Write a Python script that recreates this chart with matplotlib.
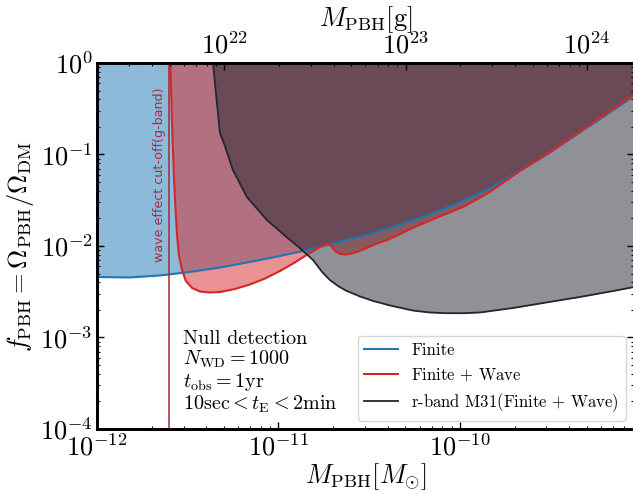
import numpy as np
import matplotlib
matplotlib.use("Agg")
import matplotlib.pyplot as plt

plt.rcParams['font.family'] = 'serif'
plt.rcParams['font.serif'] = ['cmr10']
plt.rcParams['mathtext.fontset'] = 'cm'
plt.rcParams['axes.formatter.use_mathtext'] = True
plt.rcParams['axes.unicode_minus'] = False

MSUN_G = 1.989e33
M_CUT = 2.5e-12

# finite-source limit
m_finite = [1.0e-12, 1.52e-12, 2.22e-12, 3.25e-12, 4.76e-12, 6.97e-12, 1.02e-11,
            1.49e-11, 2.18e-11, 3.19e-11, 4.67e-11, 6.83e-11, 1.0e-10, 1.46e-10,
            2.14e-10, 3.13e-10, 4.58e-10, 6.71e-10, 9.1e-10]
f_finite = [4.58e-3, 4.53e-3, 4.76e-3, 5.20e-3, 5.82e-3, 6.69e-3, 7.78e-3,
            9.16e-3, 1.11e-2, 1.35e-2, 1.70e-2, 2.21e-2, 2.99e-2, 4.25e-2,
            6.61e-2, 0.105, 0.174, 0.288, 0.436]

# finite + wave-optics limit
m_wave = [2.54e-12, 2.57e-12, 2.61e-12, 2.66e-12, 2.71e-12, 2.76e-12, 2.83e-12,
          2.94e-12, 3.09e-12, 3.34e-12, 3.69e-12, 4.19e-12, 4.76e-12, 5.76e-12,
          6.97e-12, 8.43e-12, 1.02e-11, 1.23e-11, 1.49e-11, 1.69e-11, 1.85e-11,
          1.95e-11, 2.05e-11, 2.18e-11, 2.38e-11, 2.71e-11, 3.07e-11, 3.49e-11,
          3.96e-11, 4.50e-11, 5.30e-11, 6.83e-11, 8.37e-11, 1.07e-10, 1.46e-10,
          2.14e-10, 3.13e-10, 4.58e-10, 6.71e-10, 9.1e-10]
f_wave = [1.0, 0.394, 0.144, 0.0526, 0.0247, 0.0132, 7.97e-3,
          5.47e-3, 4.14e-3, 3.48e-3, 3.18e-3, 3.10e-3, 3.14e-3, 3.39e-3,
          3.80e-3, 4.41e-3, 5.33e-3, 6.60e-3, 8.39e-3, 9.75e-3, 1.065e-2,
          1.01e-2, 8.82e-3, 8.18e-3, 8.07e-3, 8.60e-3, 9.51e-3, 1.065e-2,
          1.16e-2, 1.30e-2, 1.53e-2, 1.90e-2, 2.24e-2, 2.74e-2, 3.89e-2,
          6.60e-2, 0.1065, 0.178, 0.299, 0.453]

# r-band M31 survey, finite + wave
m_m31 = [4.36e-12, 4.47e-12, 4.76e-12, 5.07e-12, 5.61e-12, 6.70e-12, 8.64e-12,
         1.11e-11, 1.31e-11, 1.55e-11, 1.74e-11, 1.92e-11, 2.13e-11, 2.35e-11,
         2.81e-11, 3.32e-11, 4.11e-11, 5.51e-11, 6.83e-11, 8.37e-11, 1.04e-10,
         1.29e-10, 1.96e-10, 2.98e-10, 4.58e-10, 6.97e-10, 9.1e-10]
f_m31 = [1.0, 0.604, 0.172, 0.124, 0.0677, 0.0343, 0.0192,
         1.25e-2, 9.51e-3, 7.03e-3, 5.20e-3, 4.25e-3, 3.65e-3, 3.26e-3,
         2.81e-3, 2.51e-3, 2.24e-3, 1.97e-3, 1.876e-3, 1.843e-3, 1.843e-3,
         1.876e-3, 2.10e-3, 2.41e-3, 2.77e-3, 3.22e-3, 3.56e-3]

c_finite = '#1f77b4'
c_wave = '#d62728'
c_m31 = '#23252f'
c_cut = '#9e2a3a'

fig = plt.figure(figsize=(6.33, 4.94), dpi=100)
ax = fig.add_axes([0.1532, 0.1316, 0.8483, 0.7409])

ax.fill_between(m_finite, f_finite, 1, color=c_finite, alpha=0.5, lw=0, zorder=1)
ax.fill_between(m_wave, f_wave, 1, color=c_wave, alpha=0.5, lw=0, zorder=1)
ax.fill_between(m_m31, f_m31, 1, color=c_m31, alpha=0.5, lw=0, zorder=1)

ax.plot(m_finite, f_finite, color=c_finite, lw=1.5, label='Finite', zorder=2)
ax.plot(m_wave, f_wave, color=c_wave, lw=1.5, label=r'Finite $+$ Wave', zorder=3)
ax.plot(m_m31, f_m31, color=c_m31, lw=1.3,
        label=r'r-band M31(Finite $+$ Wave)', zorder=3)

ax.axvline(M_CUT, color=c_cut, lw=1.1, zorder=4)
ax.text(M_CUT * 0.955, 6.7e-3, 'wave effect cut-off(g-band)', rotation=90,
        ha='right', va='bottom', color='#a62c45', fontsize=9.1,
        family='DejaVu Sans')

ax.set_xscale('log')
ax.set_yscale('log')
ax.set_xlim(1e-12, 9.1e-10)
ax.set_ylim(1e-4, 1)

ax.set_xlabel(r'$M_{\rm PBH}[M_{\odot}]$', fontsize=19, labelpad=1)
ax.set_ylabel(r'$f_{\rm PBH}=\Omega_{\rm PBH}/\Omega_{\rm DM}$', fontsize=19,
              labelpad=3)

ax.tick_params(which='both', direction='in', labelsize=19, right=True, pad=3)
ax.tick_params(which='major', length=5, width=1)
ax.tick_params(which='minor', length=2.5, width=0.8)

ax.text(0.16, 0.27,
        'Null detection\n' + r'$N_{\rm WD}=1000$' + '\n' + r'$t_{\rm obs}=1$yr'
        + '\n' + r'10sec$<t_{\rm E}<2$min',
        transform=ax.transAxes, ha='left', va='top', fontsize=14.5,
        linespacing=1.05)

ax.legend(loc='lower right', fontsize=12)

# mass in grams along the top
ax2 = ax.twiny()
ax2.set_xscale('log')
ax2.set_xlim(1e-12 * MSUN_G, 9.1e-10 * MSUN_G)
ax2.set_xlabel(r'$M_{\rm PBH}[{\rm g}]$', fontsize=19, labelpad=4)
ax2.tick_params(which='both', direction='in', labelsize=19, pad=3)
ax2.tick_params(which='major', length=5, width=1)
ax2.tick_params(which='minor', length=2.5, width=0.8)

for a in (ax, ax2):
    for s in a.spines.values():
        s.set_linewidth(2)

fig.savefig('out.png', dpi=100)
